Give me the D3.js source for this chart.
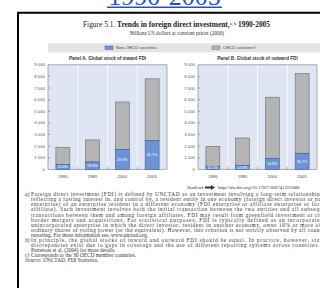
<!DOCTYPE html>
<html>
<head>
<meta charset="utf-8">
<script src="https://cdn.jsdelivr.net/npm/d3@7"></script>
<style>
  body { margin: 0; background: #fff; }
  svg { display: block; }
</style>
</head>
<body>
<svg width="320" height="288"></svg>
<script>
// values (billions US$, constant 2000 prices)
const years = ['1990', '1995', '2000', '2005'];
const inwardTotal = [1900, 2530, 5800, 7790];
const inwardNonOecd = [430, 630, 1720, 2470];
const inwardShare = ['22.6%', '24.8%', '29.6%', '31.7%'];
const outwardTotal = [1980, 2700, 6210, 8250];
const outwardNonOecd = [250, 345, 920, 1380];
const outwardShare = ['12.3%', '12.8%', '14.8%', '16.7%'];
const yTicks = [0, 1000, 2000, 3000, 4000, 5000, 6000, 7000, 8000, 9000];

const notes = [
  ['a)', 'Foreign direct investment (FDI) is defined by UNCTAD as an investment involving a long-term relationship and', true],
  ['', 'reflecting a lasting interest in, and control by, a resident entity in one economy (foreign direct investor or parent', true],
  ['', 'enterprise) of an enterprise resident in a different economy (FDI enterprise or affiliate enterprise or foreign', true],
  ['', 'affiliate). Such investment involves both the initial transaction between the two entities and all subsequent', true],
  ['', 'transactions between them and among foreign affiliates. FDI may result from greenfield investment or cross-', true],
  ['', 'border mergers and acquisitions. For statistical purposes, FDI is typically defined as an incorporated or', true],
  ['', 'unincorporated enterprise in which the direct investor, resident in another economy, owns 10% or more of the', true],
  ['', 'ordinary shares of voting power (or the equivalent). However, this criterion is not strictly observed by all countries', true],
  ['', 'reporting. For more information see, www.unctad.org.', false],
  ['b)', 'In principle, the global stocks of inward and outward FDI should be equal. In practice, however, sizable', true],
  ['', 'discrepancies exist due to gaps in coverage and the use of different reporting systems across countries. See', true],
  ['', 'Patterson et al. (2004) for more details.', false],
  ['c)', 'Corresponds to the 30 OECD member countries.', false]
];

const svg = d3.select('svg');
const serif = 'Liberation Serif, Times New Roman, serif';
const sans = 'Liberation Sans, Arial, sans-serif';

// cut-off link heading above the frame
svg.append('text')
   .text('1990-2005')
   .attr('x', 164.5)
   .attr('y', 5)
   .style('text-anchor', 'middle')
   .style('font-family', serif)
   .style('font-size', '26px')
   .style('fill', '#1f4fd6');
svg.append('line')
   .attr('x1', 107).attr('x2', 222)
   .attr('y1', 7.3).attr('y2', 7.3)
   .style('stroke', '#1f4fd6')
   .style('stroke-width', 1.4);

// page frame
svg.append('path')
   .attr('d', 'M18,290 V12.8 H322')
   .style('fill', 'none')
   .style('stroke', '#000')
   .style('stroke-width', 2);

// title
let title = svg.append('text')
   .attr('x', 176.5)
   .attr('y', 27)
   .style('text-anchor', 'middle')
   .style('font-family', serif)
   .style('font-size', '7.4px')
   .style('fill', '#222');
title.append('tspan').text('Figure 5.1.  ');
title.append('tspan').text('Trends in foreign direct investment,').style('font-weight', 'bold');
title.append('tspan').text('a, b').attr('dy', -2.5).style('font-size', '4.5px');
title.append('tspan').text(' 1990-2005').attr('dy', 2.5).style('font-weight', 'bold');

svg.append('text')
   .text('Billions US dollars at constant prices (2000)')
   .attr('x', 177)
   .attr('y', 35)
   .style('text-anchor', 'middle')
   .style('font-family', serif)
   .style('font-size', '5.3px')
   .style('fill', '#333');

// legend band
const legG = svg.append('g');
legG.append('rect')
    .attr('x', 48).attr('y', 43.3)
    .attr('width', 280).attr('height', 9)
    .style('fill', '#e4e4e4');

const legItems = [
  {x: 105, fill: '#6b93d6', stroke: '#3d5c99', label: 'Non-OECD countries', sup: ''},
  {x: 212, fill: '#b4b4b4', stroke: '#6e6e6e', label: 'OECD countries', sup: 'c'}
];
legItems.forEach(d => {
  legG.append('rect')
      .attr('x', d.x).attr('y', 46)
      .attr('width', 8).attr('height', 3.4)
      .style('fill', d.fill)
      .style('stroke', d.stroke)
      .style('stroke-width', 0.5);
  let t = legG.append('text')
      .attr('x', d.x + 11).attr('y', 49.4)
      .style('font-family', sans)
      .style('font-size', '4.4px')
      .style('fill', '#444');
  t.append('tspan').text(d.label);
  if (d.sup) t.append('tspan').text(d.sup).attr('dy', -1.5).style('font-size', '3px');
});

// y scale shared by both panels
const y = d3.scaleLinear().domain([0, 9000]).range([169.3, 64.8]);
const fmt = v => d3.format(',')(v).replace(',', ' ');

function drawPanel(left, right, panelTitle, totals, nonOecd, shares) {
  let g = svg.append('g');
  let x = d3.scaleBand()
            .domain(years)
            .range([left, right])
            .paddingInner(0.53)
            .paddingOuter(0.265);
  let step = x.step();

  g.append('rect')
   .attr('x', left).attr('y', y(9000))
   .attr('width', right - left).attr('height', y(0) - y(9000))
   .style('fill', '#dfe5f3');

  // vertical white gridlines between years + small ticks on the base
  let bounds = years.slice(1).map(d => x(d) - step * x.paddingInner() / 2);
  g.selectAll('.vgrid')
   .data(bounds)
   .enter()
   .append('line')
   .attr('x1', d => d).attr('x2', d => d)
   .attr('y1', y(9000)).attr('y2', y(0))
   .style('stroke', '#ffffff')
   .style('stroke-width', 0.8);
  g.selectAll('.btick')
   .data(bounds)
   .enter()
   .append('line')
   .attr('x1', d => d).attr('x2', d => d)
   .attr('y1', y(0) - 2.2).attr('y2', y(0))
   .style('stroke', '#666')
   .style('stroke-width', 0.5);

  g.append('rect')
   .attr('x', left).attr('y', y(9000))
   .attr('width', right - left).attr('height', y(0) - y(9000))
   .style('fill', 'none')
   .style('stroke', '#8c8c8c')
   .style('stroke-width', 0.7);

  // left ticks and labels
  g.selectAll('.ytick')
   .data(yTicks.slice(1, -1))
   .enter()
   .append('line')
   .attr('x1', left).attr('x2', left + 2.2)
   .attr('y1', d => y(d)).attr('y2', d => y(d))
   .style('stroke', '#666')
   .style('stroke-width', 0.5);
  g.selectAll('.ylab')
   .data(yTicks)
   .enter()
   .append('text')
   .text(d => fmt(d))
   .attr('x', left - 3)
   .attr('y', d => y(d) + 1.5)
   .style('text-anchor', 'end')
   .style('font-family', sans)
   .style('font-size', '4.3px')
   .style('fill', '#555');

  // stacked bars: non-OECD at the bottom, OECD above
  let rows = years.map((yr, i) => ({yr: yr, total: totals[i], non: nonOecd[i], share: shares[i]}));
  let bars = g.selectAll('.bar')
   .data(rows)
   .enter()
   .append('g');
  bars.append('rect')
      .attr('x', d => x(d.yr))
      .attr('y', d => y(d.total))
      .attr('width', x.bandwidth())
      .attr('height', d => y(d.non) - y(d.total))
      .style('fill', '#b4b4b4')
      .style('stroke', '#6e6e6e')
      .style('stroke-width', 0.6);
  bars.append('rect')
      .attr('x', d => x(d.yr))
      .attr('y', d => y(d.non))
      .attr('width', x.bandwidth())
      .attr('height', d => y(0) - y(d.non))
      .style('fill', '#6b93d6')
      .style('stroke', '#3d5c99')
      .style('stroke-width', 0.6);
  bars.append('text')
      .text(d => d.share)
      .attr('x', d => x(d.yr) + x.bandwidth() / 2)
      .attr('y', d => (y(d.non) + y(0)) / 2 + 1.4)
      .style('text-anchor', 'middle')
      .style('font-family', sans)
      .style('font-size', '3.8px')
      .style('fill', '#ffffff');

  g.selectAll('.xlab')
   .data(years)
   .enter()
   .append('text')
   .text(d => d)
   .attr('x', d => x(d) + x.bandwidth() / 2)
   .attr('y', 177.5)
   .style('text-anchor', 'middle')
   .style('font-family', sans)
   .style('font-size', '4.3px')
   .style('fill', '#444');

  g.append('text')
   .text(panelTitle)
   .attr('x', (left + right) / 2)
   .attr('y', 60)
   .style('text-anchor', 'middle')
   .style('font-family', sans)
   .style('font-weight', 'bold')
   .style('font-size', '4.6px')
   .style('fill', '#333');
}

drawPanel(48, 167, 'Panel A. Global stock of inward FDI', inwardTotal, inwardNonOecd, inwardShare);
drawPanel(198, 317, 'Panel B. Global stock of outward FDI', outwardTotal, outwardNonOecd, outwardShare);

// StatLink line
svg.append('text')
   .text('StatLink')
   .attr('x', 187)
   .attr('y', 188.5)
   .style('font-family', serif)
   .style('font-style', 'italic')
   .style('font-size', '5px')
   .style('fill', '#333');
svg.append('path')
   .attr('d', 'M205,186.5 h6 v-1.5 l4,2.5 l-4,2.5 v-1.5 h-6 z')
   .style('fill', '#333');
svg.append('text')
   .text('http://dx.doi.org/10.1787/368741325086')
   .attr('x', 218)
   .attr('y', 188.5)
   .style('font-family', serif)
   .style('font-size', '5px')
   .style('fill', '#333');

// notes
const noteG = svg.append('g')
   .style('font-family', serif)
   .style('font-size', '5.4px')
   .style('fill', '#333');
notes.forEach((n, i) => {
  let yy = 196.2 + i * 5.08;
  if (n[0]) {
    noteG.append('text').text(n[0]).attr('x', 25).attr('y', yy).style('font-style', 'italic');
  }
  let t = noteG.append('text').text(n[1]).attr('x', 31).attr('y', yy);
  if (n[2]) t.attr('textLength', 300).attr('lengthAdjust', 'spacing');
});
let src = noteG.append('text').attr('x', 25).attr('y', 196.2 + notes.length * 5.08);
src.append('tspan').text('Source:').style('font-style', 'italic');
src.append('tspan').text(' UNCTAD, FDI Statistics.');
</script>
</body>
</html>
